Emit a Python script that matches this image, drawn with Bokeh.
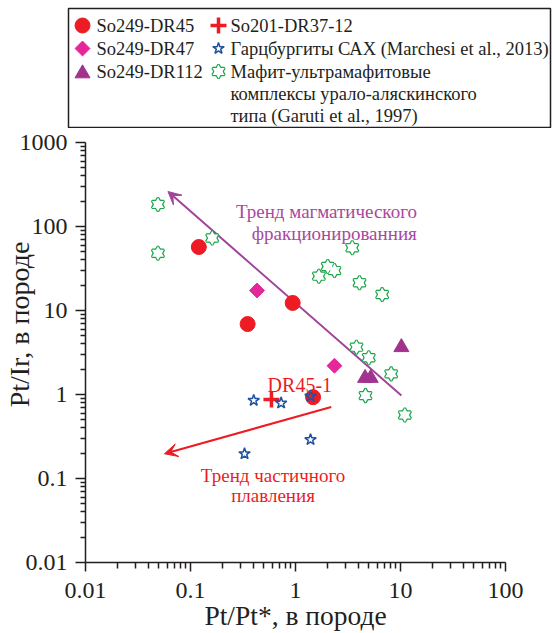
import numpy as np
from bokeh.plotting import figure
from bokeh.models import (Range1d, FixedTicker, CustomJSTickFormatter, Arrow,
                          VeeHead, Label)
from bokeh.layouts import column
from bokeh.embed import file_html
from bokeh.resources import INLINE
from bokeh.core.properties import value

# ---------------- data ----------------
# So249-DR45 (red circles)
dr45_x = [0.12, 0.35, 0.94, 1.47]
dr45_y = [57, 6.9, 12.3, 0.93]
# So249-DR47 (magenta diamonds)
dr47_x = [0.43, 2.35]
dr47_y = [17.3, 2.2]
# So249-DR112 (purple triangles)
dr112_x = [10.2, 4.6, 5.2]
dr112_y = [3.65, 1.57, 1.57]
# So201-DR37-12 (red cross)
dr37_x = [0.59]
dr37_y = [0.87]
# Harzburgites SAX (Marchesi et al., 2013)
harz_x = [0.40, 0.73, 1.39, 1.39, 0.327]
harz_y = [0.85, 0.79, 0.955, 0.29, 0.197]
# Ural-Alaskan type complexes (Garuti et al., 1997)
gar_x = [0.049, 0.049, 0.161, 3.47, 2.03, 2.35, 1.67, 4.07, 6.69, 3.81, 4.99, 8.15, 4.64, 11.0]
gar_y = [183, 48, 73, 55.8, 33.4, 29.9, 25.6, 21.4, 15.5, 3.66, 2.74, 1.76, 0.97, 0.57]
# trend arrows: [start, end]
magm_x = [10.2, 0.061]
magm_y = [0.97, 261]
melt_x = [2.19, 0.0565]
melt_y = [0.71, 0.197]

x_exps = (-2, 2)
y_exps = (-2, 3)

x_title = "Pt/Pt*, в породе"
y_title = "Pt/Ir, в породе"

labels_legend = ["So249-DR45", "So249-DR47", "So249-DR112", "So201-DR37-12",
                 "Гарцбургиты САХ (Marchesi et al., 2013)",
                 "Мафит-ультрамафитовые",
                 "комплексы урало-аляскинского",
                 "типа (Garuti et al., 1997)"]

# ---------------- styles ----------------
FONT = "Liberation Serif"
RED = "#ED1C24"
MAGENTA = "#E5279A"
PURPLE = "#A1338F"
PLINE = "#A0449A"
PTEXT = "#A8489E"
BLUE = "#1F52A2"
GREEN = "#1BA64A"
AX = "#231F20"


def decade_ticks(lo, hi):
    major = [10.0 ** e for e in range(lo, hi + 1)]
    minor = [k * 10.0 ** e for e in range(lo, hi) for k in range(2, 10)]
    return FixedTicker(ticks=major, minor_ticks=minor)


fmt = CustomJSTickFormatter(code="""
return tick >= 1 ? tick.toFixed(0) : String(parseFloat(tick.toPrecision(1)));
""")

LEG_H = 128

# ---------------- main plot ----------------
p = figure(width=552, height=633 - LEG_H, x_axis_type="log", y_axis_type="log",
           x_range=Range1d(10.0 ** x_exps[0], 10.0 ** x_exps[1]),
           y_range=Range1d(10.0 ** y_exps[0], 10.0 ** y_exps[1]),
           output_backend="svg", toolbar_location=None,
           min_border_left=85, min_border_right=47, min_border_top=142 - LEG_H,
           min_border_bottom=71)
p.frame_align = False
p.outline_line_color = None
p.xgrid.grid_line_color = None
p.ygrid.grid_line_color = None

p.xaxis.ticker = decade_ticks(*x_exps)
p.yaxis.ticker = decade_ticks(*y_exps)
for ax in (p.xaxis[0], p.yaxis[0]):
    ax.formatter = fmt
    ax.axis_line_color = AX
    ax.axis_line_width = 1.5
    ax.major_tick_line_color = AX
    ax.major_tick_line_width = 1.5
    ax.minor_tick_line_color = AX
    ax.minor_tick_line_width = 1.5
    ax.major_tick_in = 0
    ax.minor_tick_in = 0
    ax.major_label_text_font = FONT
    ax.major_label_text_font_size = "24px"
    ax.major_label_text_color = AX
    ax.axis_label_text_font = FONT
    ax.axis_label_text_font_style = "normal"
    ax.axis_label_text_color = AX

p.yaxis.major_tick_out = 10
p.yaxis.minor_tick_out = 5
p.yaxis.major_label_standoff = 8
p.xaxis.major_tick_out = 9
p.xaxis.minor_tick_out = 6
p.xaxis.major_label_standoff = 11

p.xaxis.axis_label = x_title
p.xaxis.axis_label_text_font_size = "27.5px"
p.xaxis.axis_label_standoff = -1
# leading no-break spaces lift the title above the axis centre, as in the original
p.yaxis.axis_label = "\u00a0" * 8 + y_title
p.yaxis.axis_label_text_font_size = "28px"
p.yaxis.axis_label_standoff = -18

# trend arrows (beneath the markers)
p.add_layout(Arrow(x_start=magm_x[0], y_start=magm_y[0], x_end=magm_x[1], y_end=magm_y[1],
                   line_color=PLINE, line_width=2, level="underlay",
                   end=VeeHead(size=13, fill_color=PLINE, line_color=PLINE, line_width=1)))
p.add_layout(Arrow(x_start=melt_x[0], y_start=melt_y[0], x_end=melt_x[1], y_end=melt_y[1],
                   line_color=RED, line_width=2, level="underlay",
                   end=VeeHead(size=13, fill_color=RED, line_color=RED, line_width=1)))

# hexagram markers (two outlined triangles, inner strokes hidden)
for mk in ("triangle", "inverted_triangle"):
    p.scatter(gar_x, gar_y, marker=mk, size=12, fill_color="white",
              line_color=GREEN, line_width=2.4)
for mk in ("triangle", "inverted_triangle"):
    p.scatter(gar_x, gar_y, marker=mk, size=12, fill_color="white", line_color=None)

p.scatter(dr45_x, dr45_y, marker="circle", size=15, fill_color=RED, line_color=RED)
p.scatter(dr47_x, dr47_y, marker="square", angle=np.pi / 4, size=10.5,
          fill_color=MAGENTA, line_color=MAGENTA)
p.scatter(dr37_x, dr37_y, marker="cross", size=16, line_color=RED, line_width=3.5)
p.scatter(harz_x, harz_y, marker="star", size=12, fill_color=None,
          line_color=BLUE, line_width=1.5)
p.scatter(dr112_x, dr112_y, marker="triangle", size=15, fill_color=PURPLE,
          line_color=PURPLE)

# annotations
ann = [
    ("Тренд магматического", 1.97, 152, PTEXT, "19px"),
    ("фракционированния", 2.34, 82.6, PTEXT, "19px"),
    ("DR45-1", 1.10, 1.28, RED, "20px"),
    ("Тренд частичного", 0.611, 0.1087, RED, "19px"),
    ("плавления", 0.611, 0.0628, RED, "19px"),
]
for t, x, y, c, fs in ann:
    p.add_layout(Label(x=x, y=y, text=t, text_font=FONT, text_font_size=fs,
                       text_color=c, text_align="center", text_baseline="alphabetic"))

# ---------------- legend panel ----------------
leg = figure(width=552, height=LEG_H, x_range=Range1d(0, 552), y_range=Range1d(LEG_H, 0),
             output_backend="svg", toolbar_location=None, min_border=0,
             x_axis_type=None, y_axis_type=None)
leg.frame_align = False
leg.outline_line_color = None
leg.grid.visible = False
leg.quad(left=[68], right=[550], top=[8], bottom=[LEG_H - 1], fill_color=None,
         line_color=AX, line_width=1.5)

cx1, tx1 = 82, 96
cx2, tx2 = 218, 230
rows = [25, 48, 71, 93, 115]

leg.scatter([cx1], [rows[0]], marker="circle", size=15, fill_color=RED, line_color=RED)
leg.scatter([cx1], [rows[1]], marker="square", angle=np.pi / 4, size=10.5,
            fill_color=MAGENTA, line_color=MAGENTA)
leg.scatter([cx1], [rows[2] + 2], marker="triangle", size=15, fill_color=PURPLE,
            line_color=PURPLE)
leg.scatter([cx2], [rows[0]], marker="cross", size=16, line_color=RED, line_width=3.5)
leg.scatter([cx2], [rows[1]], marker="star", size=12, fill_color=None,
            line_color=BLUE, line_width=1.5)
for mk in ("triangle", "inverted_triangle"):
    leg.scatter([cx2], [rows[2]], marker=mk, size=12, fill_color="white",
                line_color=GREEN, line_width=2.4)
for mk in ("triangle", "inverted_triangle"):
    leg.scatter([cx2], [rows[2]], marker=mk, size=12, fill_color="white", line_color=None)

leg.text(x=[tx1] * 3 + [tx2] * 5, y=rows[:3] + rows, text=labels_legend,
         text_font=value(FONT), text_font_size="18.5px", text_color=AX,
         text_align="left", text_baseline="middle")

layout = column(leg, p, spacing=0)
open("out.html", "w").write(file_html(layout, INLINE))
